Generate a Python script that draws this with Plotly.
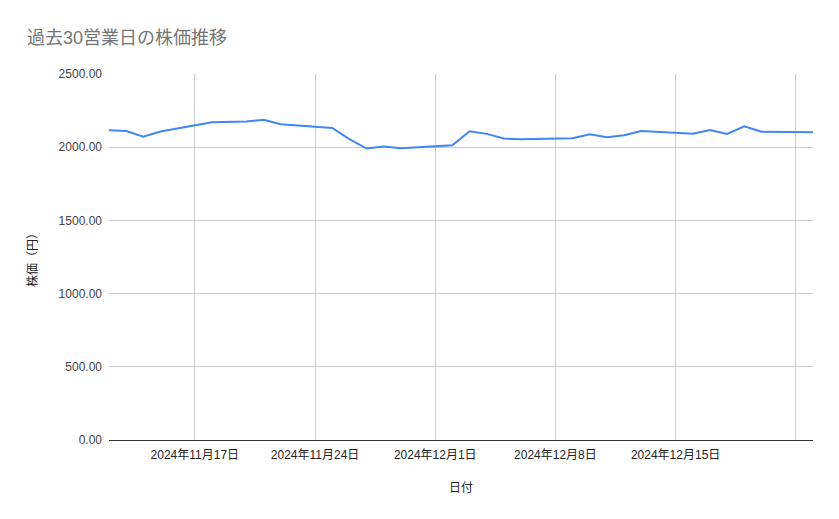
import plotly.graph_objects as go

dates = [
    "2024-11-12", "2024-11-13", "2024-11-14", "2024-11-15",
    "2024-11-18", "2024-11-19", "2024-11-20", "2024-11-21", "2024-11-22",
    "2024-11-25", "2024-11-26", "2024-11-27", "2024-11-28", "2024-11-29",
    "2024-12-02", "2024-12-03", "2024-12-04", "2024-12-05", "2024-12-06",
    "2024-12-09", "2024-12-10", "2024-12-11", "2024-12-12", "2024-12-13",
    "2024-12-16", "2024-12-17", "2024-12-18", "2024-12-19", "2024-12-20",
    "2024-12-23",
]
prices = [
    2116, 2111, 2072, 2107,
    2170, 2172, 2175, 2188, 2157,
    2132, 2055, 1991, 2004, 1993,
    2013, 2109, 2091, 2059, 2055,
    2061, 2088, 2068, 2082, 2111,
    2092, 2118, 2091, 2143, 2106,
    2102,
]

tick_dates = ["2024-11-17", "2024-11-24", "2024-12-01", "2024-12-08", "2024-12-15", "2024-12-22"]
tick_labels = ["2024年11月17日", "2024年11月24日", "2024年12月1日", "2024年12月8日", "2024年12月15日", ""]

y_ticks = [0, 500, 1000, 1500, 2000, 2500]
y_tick_labels = ["0.00", "500.00", "1000.00", "1500.00", "2000.00", "2500.00"]

FONT = "Liberation Sans, Arial, Noto Sans CJK JP, sans-serif"
W, H = 831, 511  # page has an 8px body margin

fig = go.Figure()
fig.add_trace(go.Scatter(
    x=dates, y=prices, mode="lines",
    line=dict(color="#4285F4", width=2),
    showlegend=False,
))

fig.update_layout(
    width=W, height=H,
    margin=dict(l=101, r=26, t=66, b=79),
    paper_bgcolor="white", plot_bgcolor="white",
    font=dict(family=FONT, size=12, color="#222222"),
    title=dict(
        text="過去30営業日の株価推移",
        x=19 / W, xref="container", xanchor="left",
        y=1 - 30 / H, yref="container", yanchor="middle",
        font=dict(size=18, color="#757575", family=FONT),
    ),
    xaxis=dict(
        range=["2024-11-12", "2024-12-23"],
        tickmode="array", tickvals=tick_dates, ticktext=tick_labels,
        showgrid=True, gridcolor="#cccccc", gridwidth=1,
        showline=True, linecolor="#333333", linewidth=1,
        zeroline=False, ticks="",
        ticklabelstandoff=4,
        tickfont=dict(size=12, color="#222222"),
        title=dict(text="日付", font=dict(size=12, color="#222222"), standoff=22),
    ),
    yaxis=dict(
        range=[0, 2500],
        tickmode="array", tickvals=y_ticks, ticktext=y_tick_labels,
        showgrid=True, gridcolor="#cccccc", gridwidth=1,
        zeroline=False, showline=False, ticks="",
        ticklabelstandoff=6,
        tickfont=dict(size=12, color="#444444"),
        title=dict(text="株価（円）", font=dict(size=12, color="#222222"), standoff=18),
    ),
)

fig.write_html("out.html")
